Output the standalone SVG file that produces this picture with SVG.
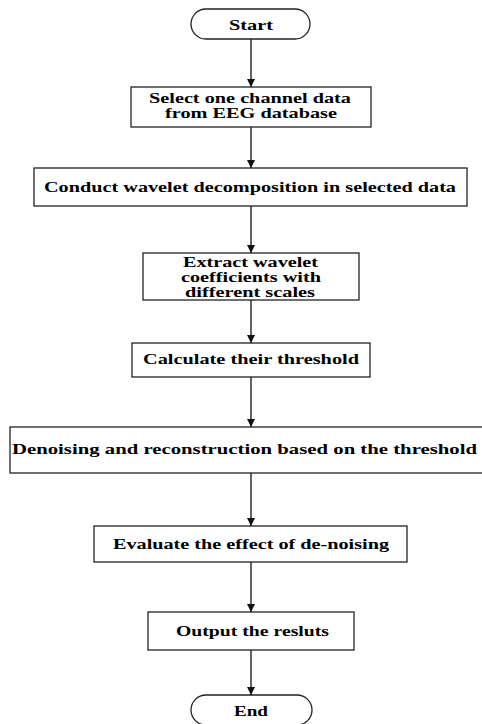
<svg xmlns="http://www.w3.org/2000/svg" width="482" height="724" viewBox="0 0 482 724">
  <style>
    .box { fill: #ffffff; stroke: #222222; stroke-width: 1.3; }
    .lbl { font-family: "Liberation Serif", "Times New Roman", serif; font-weight: bold; font-size: 15px; fill: #000000; text-anchor: middle; }
    .conn { stroke: #111111; stroke-width: 1.3; fill: none; marker-end: url(#arrow); }
  </style>
  <defs>
    <marker id="arrow" viewBox="0 0 8 8" refX="8" refY="4" markerWidth="8" markerHeight="8" markerUnits="userSpaceOnUse" orient="auto">
      <path d="M0,0 L8,4 L0,8 Z" fill="#111111"/>
    </marker>
  </defs>
  <rect width="482" height="724" fill="#ffffff"/>

  <g id="connectors">
    <line class="conn" x1="251" y1="39" x2="251" y2="87"/>
    <line class="conn" x1="251" y1="127" x2="251" y2="168"/>
    <line class="conn" x1="251" y1="206" x2="251" y2="253"/>
    <line class="conn" x1="251" y1="300" x2="251" y2="343"/>
    <line class="conn" x1="251" y1="377" x2="251" y2="427"/>
    <line class="conn" x1="251" y1="473" x2="251" y2="526"/>
    <line class="conn" x1="251" y1="562" x2="251" y2="612"/>
    <line class="conn" x1="251" y1="650" x2="251" y2="695"/>
  </g>

  <g id="start">
    <rect class="box" x="191" y="9" width="119" height="30" rx="15" ry="15"/>
    <text class="lbl" x="251" y="29.5" textLength="44" lengthAdjust="spacingAndGlyphs">Start</text>
  </g>

  <g id="select">
    <rect class="box" x="131" y="87" width="240" height="40"/>
    <text class="lbl" x="250" y="102.5" textLength="202" lengthAdjust="spacingAndGlyphs">Select one channel data</text>
    <text class="lbl" x="251" y="118" textLength="172" lengthAdjust="spacingAndGlyphs">from EEG database</text>
  </g>

  <g id="decompose">
    <rect class="box" x="34" y="168" width="433" height="38"/>
    <text class="lbl" x="250" y="192" textLength="412" lengthAdjust="spacingAndGlyphs">Conduct wavelet decomposition in selected data</text>
  </g>

  <g id="extract">
    <rect class="box" x="143" y="253" width="216" height="47"/>
    <text class="lbl" x="250.5" y="266.5" textLength="135" lengthAdjust="spacingAndGlyphs">Extract wavelet</text>
    <text class="lbl" x="251" y="281.5" textLength="140" lengthAdjust="spacingAndGlyphs">coefficients with</text>
    <text class="lbl" x="250" y="296.5" textLength="130" lengthAdjust="spacingAndGlyphs">different scales</text>
  </g>

  <g id="threshold">
    <rect class="box" x="132" y="343" width="238" height="34"/>
    <text class="lbl" x="251" y="364" textLength="216" lengthAdjust="spacingAndGlyphs">Calculate their threshold</text>
  </g>

  <g id="denoise">
    <rect class="box" x="10" y="427" width="480" height="46"/>
    <text class="lbl" x="244.5" y="454" textLength="465" lengthAdjust="spacingAndGlyphs">Denoising and reconstruction based on the threshold</text>
  </g>

  <g id="evaluate">
    <rect class="box" x="94" y="526" width="313" height="36"/>
    <text class="lbl" x="251" y="549" textLength="276" lengthAdjust="spacingAndGlyphs">Evaluate the effect of de-noising</text>
  </g>

  <g id="output">
    <rect class="box" x="148" y="612" width="206" height="38"/>
    <text class="lbl" x="252.5" y="636" textLength="153" lengthAdjust="spacingAndGlyphs">Output the resluts</text>
  </g>

  <g id="end">
    <rect class="box" x="191" y="695" width="121" height="30" rx="15" ry="15"/>
    <text class="lbl" x="251" y="715.5" textLength="34" lengthAdjust="spacingAndGlyphs">End</text>
  </g>
</svg>
